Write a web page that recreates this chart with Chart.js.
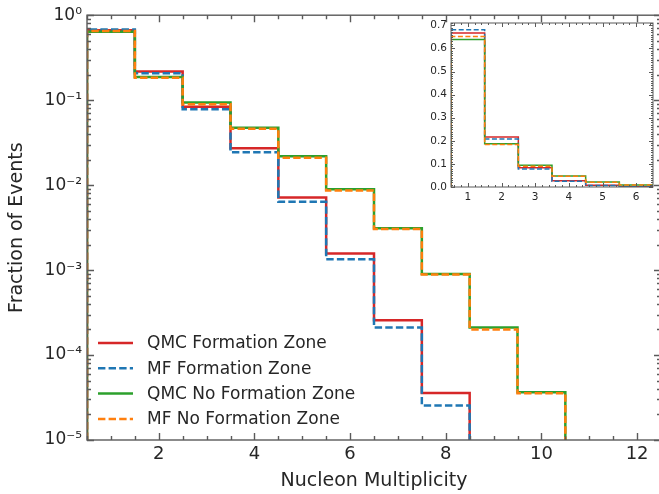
<!DOCTYPE html>
<html>
<head>
<meta charset="utf-8">
<script src="https://cdn.jsdelivr.net/npm/chart.js@4.4.1/dist/chart.umd.min.js"></script>
<style>
  html, body { margin: 0; padding: 0; background: #fff; overflow: hidden; }
  #wrap { position: relative; width: 659px; height: 494px; overflow: hidden; }
  #main { position: absolute; left: 0; top: 0; }
  #inset { position: absolute; left: 415px; top: 10px; }
</style>
</head>
<body>
<div id="wrap">
  <canvas id="main" width="662" height="494"></canvas>
  <canvas id="inset" width="244" height="200"></canvas>
</div>
<script>
// Fraction of events per nucleon multiplicity bin (bin 1, 2, 3, ...)
const qmcFZ   = [0.667, 0.217, 0.0835, 0.0272, 0.00714, 0.00157, 0.000257, 0.0000357];
const mfFZ    = [0.681, 0.208, 0.0783, 0.0244, 0.00636, 0.00134, 0.000211, 0.0000254];
const qmcNoFZ = [0.639, 0.187, 0.0937, 0.0474, 0.0219, 0.00895, 0.0031, 0.0009, 0.000211, 0.0000364];
const mfNoFZ  = [0.652, 0.184, 0.0895, 0.0462, 0.021, 0.00862, 0.00305, 0.00089, 0.0002, 0.0000355];

const seriesLabels = ["QMC Formation Zone", "MF Formation Zone", "QMC No Formation Zone", "MF No Formation Zone"];
const seriesValues = [qmcFZ, mfFZ, qmcNoFZ, mfNoFZ];
const seriesColors = ["#d62728", "#1f77b4", "#2ca02c", "#ff7f0e"];
const seriesDashed = [false, true, false, true];

// tick labels
const xTicks = [2, 4, 6, 8, 10, 12];
const yTicks = [1, 1e-1, 1e-2, 1e-3, 1e-4, 1e-5];
const insetXTicks = [1, 2, 3, 4, 5, 6];
const insetYTicks = [0, 0.1, 0.2, 0.3, 0.4, 0.5, 0.6, 0.7];

// bottom of each y axis, where the histogram outline starts and ends
const mainFloor = 1e-5;
const insetFloor = 0;

Chart.defaults.font.family = "'DejaVu Sans', sans-serif";
Chart.defaults.color = "#262626";

const SUP = { "-": "\u207b", "0": "\u2070", "1": "\u00b9", "2": "\u00b2", "3": "\u00b3", "4": "\u2074", "5": "\u2075" };
function powLabel(v) {
  const e = String(Math.round(Math.log10(v)));
  return "10" + e.split("").map((c) => SUP[c]).join("");
}

// histogram outline: rise from the floor on the left edge, hold each bin value, drop back
function stepPoints(vals, floor) {
  const pts = [{ x: 0.5, y: floor }];
  vals.forEach((v, i) => pts.push({ x: i + 0.5, y: v }));
  const n = vals.length;
  pts.push({ x: n + 0.5, y: vals[n - 1] });
  pts.push({ x: n + 0.5, y: floor });
  return pts;
}

function makeDatasets(width, dash, floor) {
  return seriesValues.map((vals, i) => ({
    label: seriesLabels[i],
    data: stepPoints(vals, floor),
    borderColor: seriesColors[i],
    borderWidth: width,
    borderDash: seriesDashed[i] ? dash : [],
    stepped: "before",
    pointRadius: 0,
    fill: false,
    order: 4 - i,
  }));
}

function range(from, to, step) {
  const out = [];
  for (let v = from; v <= to + 1e-9; v += step) out.push(Math.round(v * 1000) / 1000);
  return out;
}

// spines plus inward ticks on all four sides
function framePlugin(cfg) {
  return {
    id: "frame",
    afterDatasetsDraw(chart) {
      const { ctx, chartArea: a } = chart;
      const xs = chart.scales.x, ys = chart.scales.y;
      ctx.save();
      ctx.strokeStyle = cfg.color;
      ctx.lineWidth = cfg.lineWidth;
      ctx.strokeRect(a.left, a.top, a.right - a.left, a.bottom - a.top);
      ctx.beginPath();
      const xt = (list, len) => list.forEach((v) => {
        const px = Math.round(xs.getPixelForValue(v)) + 0.5;
        if (px < a.left || px > a.right) return;
        ctx.moveTo(px, a.bottom); ctx.lineTo(px, a.bottom - len);
        ctx.moveTo(px, a.top); ctx.lineTo(px, a.top + len);
      });
      const yt = (list, len) => list.forEach((v) => {
        const py = Math.round(ys.getPixelForValue(v)) + 0.5;
        if (py < a.top - 1 || py > a.bottom + 1) return;
        ctx.moveTo(a.left, py); ctx.lineTo(a.left + len, py);
        ctx.moveTo(a.right, py); ctx.lineTo(a.right - len, py);
      });
      xt(cfg.xMinor, cfg.minorLen);
      xt(cfg.xMajor, cfg.majorLen);
      yt(cfg.yMinor, cfg.minorLen);
      yt(cfg.yMajor, cfg.majorLen);
      ctx.stroke();
      ctx.restore();
    },
  };
}

const yMinor = [];
for (let e = -5; e < 0; e++) for (let m = 2; m <= 9; m++) yMinor.push(m * Math.pow(10, e));

const legendPlugin = {
  id: "insideLegend",
  afterDraw(chart) {
    const { ctx, chartArea: a } = chart;
    ctx.save();
    ctx.font = "17px 'DejaVu Sans'";
    ctx.textBaseline = "middle";
    chart.data.datasets.slice().sort((p, q) => q.order - p.order).forEach((ds, i) => {
      const y = a.bottom - 97 + i * 25.3;
      ctx.strokeStyle = ds.borderColor;
      ctx.lineWidth = 2.5;
      ctx.setLineDash(ds.borderDash);
      ctx.beginPath();
      ctx.moveTo(a.left + 11, y);
      ctx.lineTo(a.left + 46, y);
      ctx.stroke();
      ctx.setLineDash([]);
      ctx.fillStyle = "#262626";
      ctx.fillText(ds.label, a.left + 60, y + 1);
    });
    ctx.restore();
  },
};

new Chart(document.getElementById("main"), {
  type: "line",
  data: { datasets: makeDatasets(2.5, [7.4, 3.2], mainFloor) },
  options: {
    responsive: false,
    animation: false,
    layout: { padding: { top: 12, right: 1, left: 0, bottom: 0 } },
    plugins: { legend: { display: false }, tooltip: { enabled: false } },
    scales: {
      x: {
        type: "linear",
        min: 0.5,
        max: 12.5,
        afterBuildTicks: (s) => { s.ticks = xTicks.map((v) => ({ value: v })); },
        afterFit: (s) => { s.height = 54; },
        grid: { display: false, drawTicks: false },
        border: { display: false },
        ticks: { font: { size: 18 }, padding: 4, maxRotation: 0, autoSkip: false },
        title: { display: true, text: "Nucleon Multiplicity", font: { size: 19 }, padding: { top: 0, bottom: 2 } },
      },
      y: {
        type: "logarithmic",
        min: mainFloor,
        max: 1,
        afterBuildTicks: (s) => { s.ticks = yTicks.map((v) => ({ value: v })); },
        afterFit: (s) => { s.width = 87; },
        grid: { display: false, drawTicks: false },
        border: { display: false },
        ticks: { font: { size: 17 }, padding: 5, autoSkip: false, callback: (v) => powLabel(v) },
        title: { display: true, text: "Fraction of Events", font: { size: 19 }, padding: { top: 6, bottom: 0 } },
      },
    },
  },
  plugins: [
    framePlugin({ color: "#5a5a5a", lineWidth: 1.4, majorLen: 7, minorLen: 4,
      xMajor: xTicks, xMinor: range(0.5, 12.5, 0.5), yMajor: yTicks, yMinor: yMinor }),
    legendPlugin,
  ],
});

new Chart(document.getElementById("inset"), {
  type: "line",
  data: { datasets: makeDatasets(1.5, [5, 2.5], insetFloor) },
  options: {
    responsive: false,
    animation: false,
    layout: { padding: { top: 13, right: 6, left: 0, bottom: 0 } },
    plugins: { legend: { display: false }, tooltip: { enabled: false } },
    scales: {
      x: {
        type: "linear",
        min: 0.5,
        max: 6.5,
        afterBuildTicks: (s) => { s.ticks = insetXTicks.map((v) => ({ value: v })); },
        afterFit: (s) => { s.height = 23; },
        grid: { display: false, drawTicks: false },
        border: { display: false },
        ticks: { font: { size: 10.5 }, padding: 4, maxRotation: 0, autoSkip: false },
      },
      y: {
        type: "linear",
        min: insetFloor,
        max: 0.71,
        afterBuildTicks: (s) => { s.ticks = insetYTicks.map((v) => ({ value: v })); },
        afterFit: (s) => { s.width = 36; },
        grid: { display: false, drawTicks: false },
        border: { display: false },
        ticks: { font: { size: 10.5 }, padding: 4, autoSkip: false, callback: (v) => v.toFixed(1) },
      },
    },
  },
  plugins: [
    framePlugin({ color: "#5a5a5a", lineWidth: 1, majorLen: 4, minorLen: 2,
      xMajor: insetXTicks, xMinor: range(0.6, 6.4, 0.2), yMajor: insetYTicks, yMinor: range(0, 0.71, 0.01) }),
  ],
});
</script>
</body>
</html>
